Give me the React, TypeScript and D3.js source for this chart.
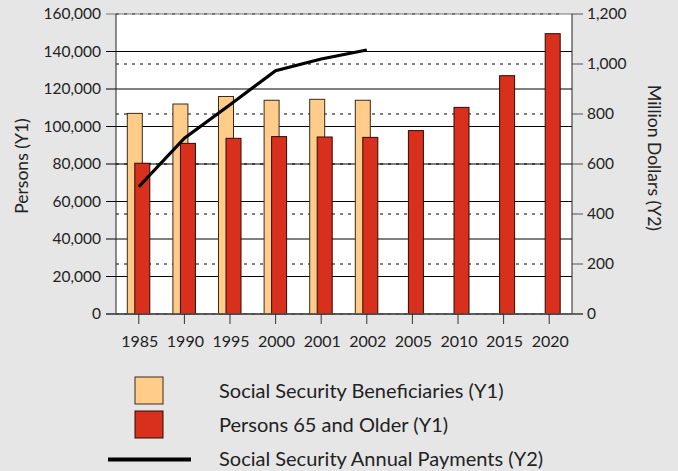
import React from "react";
import * as d3 from "d3";

const years = ["1985", "1990", "1995", "2000", "2001", "2002", "2005", "2010", "2015", "2020"];
const beneficiaries: (number | null)[] = [107000, 112000, 116000, 114000, 114500, 114000, null, null, null, null];
const persons65: number[] = [80400, 91000, 93700, 94600, 94400, 94200, 97800, 110200, 127100, 149500];
const paymentYears = ["1985", "1990", "1995", "2000", "2001", "2002"];
const payments: number[] = [509, 703, 837, 973, 1020, 1056];
const y1Ticks = [0, 20000, 40000, 60000, 80000, 100000, 120000, 140000, 160000];
const y2Ticks = [0, 200, 400, 600, 800, 1000, 1200];

const W = 678, H = 471;
const L = 116, R = 572, T = 14, B = 314;
const FONT = "Lato, 'Noto Sans', sans-serif";
const TXT = "#222";

export default function App() {
  const x = d3.scaleBand<string>().domain(years).range([L, R]).padding(0);
  const y1 = d3.scaleLinear().domain([0, 160000]).range([B, T]);
  const y2 = d3.scaleLinear().domain([0, 1200]).range([B, T]);
  const fmt = d3.format(",");
  const cx = (yr: string) => (x(yr) as number) + x.bandwidth() / 2;
  const line = d3
    .line<number>()
    .x((_, i) => cx(paymentYears[i]))
    .y((d) => y2(d));

  return (
    <svg width={W} height={H} style={{ position: "absolute", left: 0, top: 0, display: "block" }} fontFamily={FONT}>
      <rect x={0} y={0} width={W} height={H} fill="#e6e6e6" />
      <rect x={L} y={T} width={R - L} height={B - T} fill="#ffffff" />
      {/* dashed Y2 gridlines */}
      {y2Ticks.map((t) => (
        <line key={"d" + t} x1={L} x2={R - 10} y1={y2(t)} y2={y2(t)} stroke="#000" strokeWidth={1} strokeDasharray="3,5" />
      ))}
      {/* solid Y1 gridlines with left ticks */}
      {y1Ticks.map((t) => (
        <line key={"s" + t} x1={L - 10} x2={R} y1={y1(t)} y2={y1(t)} stroke={t === 160000 ? "#777" : "#000"} strokeWidth={1} />
      ))}
      {/* right ticks */}
      {y2Ticks.map((t) => (
        <line key={"r" + t} x1={R} x2={R + 11} y1={y2(t)} y2={y2(t)} stroke="#555" strokeWidth={1} />
      ))}
      {/* bars */}
      {years.map((yr, i) =>
        beneficiaries[i] != null ? (
          <rect
            key={"b" + yr}
            x={cx(yr) - 11.5}
            y={y1(beneficiaries[i] as number)}
            width={15}
            height={B - y1(beneficiaries[i] as number)}
            fill="#ffcc8a"
            stroke="#3a2a1a"
            strokeWidth={1}
          />
        ) : null
      )}
      {years.map((yr, i) => (
        <rect
          key={"p" + yr}
          x={cx(yr) - 4}
          y={y1(persons65[i])}
          width={15}
          height={B - y1(persons65[i])}
          fill="#d9301e"
          stroke="#2a0a05"
          strokeWidth={1}
        />
      ))}
      {/* line */}
      <path d={line(payments) || ""} fill="none" stroke="#000" strokeWidth={3.2} />
      {/* axes */}
      <line x1={L} x2={L} y1={T} y2={B} stroke="#222" strokeWidth={1} />
      <line x1={R} x2={R} y1={T} y2={B} stroke="#222" strokeWidth={1} />
      <line x1={L - 10} x2={R + 11} y1={B} y2={B} stroke="#555" strokeWidth={1.5} />
      {years.map((yr) => (
        <line key={"xt" + yr} x1={cx(yr)} x2={cx(yr)} y1={B} y2={B + 10} stroke="#333" strokeWidth={1} />
      ))}
      {/* tick labels */}
      {y1Ticks.map((t) => (
        <text key={"l1" + t} x={101} y={y1(t)} dy="0.35em" textAnchor="end" fontSize={15.5} fill={TXT}>
          {fmt(t)}
        </text>
      ))}
      {y2Ticks.map((t) => (
        <text key={"l2" + t} x={587} y={y2(t)} dy="0.35em" textAnchor="start" fontSize={15.5} fill={TXT}>
          {fmt(t)}
        </text>
      ))}
      {years.map((yr) => (
        <text key={"xl" + yr} x={cx(yr) + 1} y={347} textAnchor="middle" fontSize={16} fill={TXT}>
          {yr}
        </text>
      ))}
      {/* axis titles */}
      <text transform={`translate(28,166) rotate(-90)`} textAnchor="middle" fontSize={17.5} fill={TXT}>
        Persons (Y1)
      </text>
      <text transform={`translate(648,158) rotate(90)`} textAnchor="middle" fontSize={17.5} fill={TXT}>
        Million Dollars (Y2)
      </text>
      {/* legend */}
      <rect x={135} y={377} width={28} height={27} fill="#ffcc8a" stroke="#3a2a1a" strokeWidth={1} />
      <rect x={135} y={411} width={28} height={27} fill="#d9301e" stroke="#2a0a05" strokeWidth={1} />
      <line x1={108} x2={191} y1={459.5} y2={459.5} stroke="#000" strokeWidth={4} />
      <text x={219} y={397.5} fontSize={20} fill={TXT}>Social Security Beneficiaries (Y1)</text>
      <text x={219} y={431.5} fontSize={20} fill={TXT}>Persons 65 and Older (Y1)</text>
      <text x={219} y={465.5} fontSize={20} fill={TXT}>Social Security Annual Payments (Y2)</text>
    </svg>
  );
}
